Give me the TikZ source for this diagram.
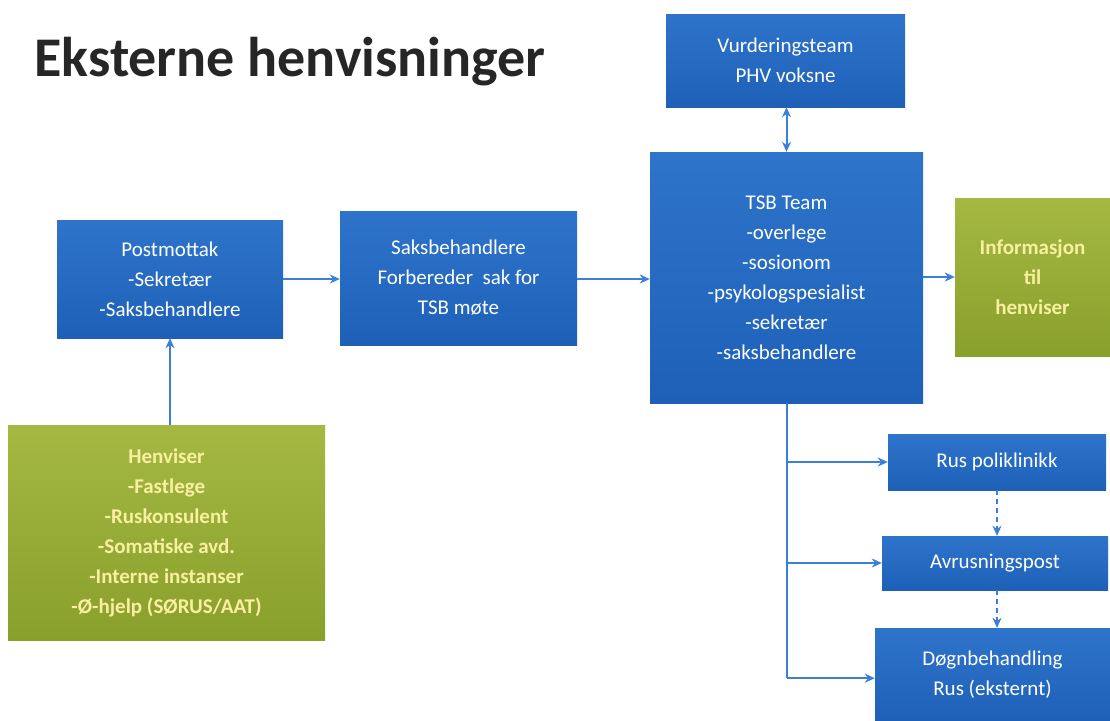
\documentclass[tikz,border=0pt]{standalone}
\usepackage{fontspec}
\setmainfont{Carlito}
\usetikzlibrary{arrows.meta}
\definecolor{bluetop}{RGB}{46,116,202}
\definecolor{bluebot}{RGB}{30,96,184}
\definecolor{greentop}{RGB}{164,184,66}
\definecolor{greenbot}{RGB}{138,160,44}
\definecolor{arrowblue}{RGB}{58,128,218}
\definecolor{lightyellow}{RGB}{248,240,160}
\definecolor{titlegray}{RGB}{38,38,38}
\tikzset{
  bluebox/.style={rectangle, top color=bluetop, bottom color=bluebot, draw=none,
    text=white, align=center, font=\fontsize{21}{30}\selectfont, inner sep=0pt},
  greenbox/.style={rectangle, top color=greentop, bottom color=greenbot, draw=none,
    text=lightyellow, align=center, font=\fontsize{21}{30}\selectfont\bfseries, inner sep=0pt},
  conn/.style={draw=arrowblue, line width=2pt, -{Stealth[length=10pt,width=9pt]}},
  plainconn/.style={draw=arrowblue, line width=2pt},
  dconn/.style={draw=arrowblue, line width=2pt, dash pattern=on 5pt off 4pt, -{Stealth[length=10pt,width=9pt]}},
  bothconn/.style={draw=arrowblue, line width=2pt, {Stealth[length=10pt,width=9pt]}-{Stealth[length=10pt,width=9pt]}}
}
\begin{document}
\begin{tikzpicture}[x=1pt,y=-1pt]
\useasboundingbox (0,0) rectangle (1110,720);
\fill[white] (0,0) rectangle (1110,720);

\node[anchor=west, text=titlegray, font=\fontsize{56}{60}\selectfont\bfseries] (title) at (31,62) {Eksterne henvisninger};

\node[bluebox, minimum width=239pt, minimum height=93pt] (vur) at (785.5,60.5) {Vurderingsteam\\PHV voksne};
\node[bluebox, minimum width=273pt, minimum height=251pt] (tsb) at (786.5,277.5) {TSB Team\\-overlege\\-sosionom\\-psykologspesialist\\-sekretær\\-saksbehandlere};
\node[greenbox, minimum width=155pt, minimum height=158pt] (info) at (1032.5,277) {Informasjon\\til\\henviser};
\node[bluebox, minimum width=226pt, minimum height=118pt] (post) at (170,279) {Postmottak\\-Sekretær\\-Saksbehandlere};
\node[bluebox, minimum width=237pt, minimum height=134pt] (saks) at (458.5,278) {Saksbehandlere\\Forbereder\ \ sak for\\TSB møte};
\node[greenbox, minimum width=317pt, minimum height=215pt] (henv) at (166.5,532.5) {Henviser\\-Fastlege\\-Ruskonsulent\\-Somatiske avd.\\-Interne instanser\\-Ø-hjelp (SØRUS/AAT)};
\node[bluebox, minimum width=218pt, minimum height=56pt] (rus) at (997,462) {Rus poliklinikk};
\node[bluebox, minimum width=226pt, minimum height=54pt] (avr) at (995,563) {Avrusningspost};
\node[bluebox, minimum width=235pt, minimum height=94pt] (dogn) at (992.5,675) {Døgnbehandling\\Rus (eksternt)};

\draw[conn] (henv.north -| post.south) -- (post.south);
\draw[conn] (post.east) -- (saks.west |- post.east);
\draw[conn] (saks.east |- post.east) -- (tsb.west |- post.east);
\draw[conn] (tsb.east |- info.west) -- (info.west);
\draw[bothconn] (vur.south -| tsb.north) -- (tsb.north);

\coordinate (j1) at (tsb.south |- rus.west);
\coordinate (j2) at (tsb.south |- avr.west);
\coordinate (j3) at ([yshift=-275pt]tsb.south);
\draw[plainconn] (tsb.south) -- (j3);
\draw[conn] (j1) -- (rus.west);
\draw[conn] (j2) -- (avr.west);
\draw[conn] (j3) -- (dogn.west |- j3);
\draw[dconn] (rus.south) -- (rus.south |- avr.north);
\draw[dconn] (avr.south -| rus.south) -- (rus.south |- dogn.north);
\end{tikzpicture}
\end{document}
